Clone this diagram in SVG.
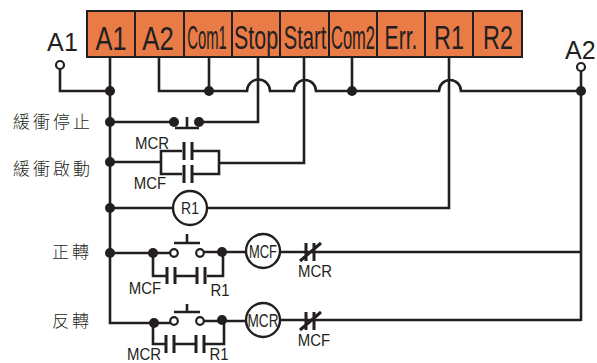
<svg xmlns="http://www.w3.org/2000/svg" width="597" height="363" viewBox="0 0 597 363">
<style>
.w{fill:none;stroke:#231f20;stroke-width:2.6}
.p{fill:none;stroke:#231f20;stroke-width:3}
.d{fill:#231f20}
.o{fill:#fff;stroke:#231f20;stroke-width:2.2}
.c{fill:#fff;stroke:#231f20;stroke-width:2.4}
.cell{fill:#e97b46;stroke:#231f20;stroke-width:2}
text{font-family:"Liberation Sans",Arial,sans-serif;fill:#231f20}
.t{font-size:33px;text-anchor:middle}
.l{font-size:17px;text-anchor:middle}
.n{font-size:25px}
.z{font-family:"Noto Sans CJK TC","Noto Sans CJK SC",sans-serif;font-size:17px;font-weight:300;letter-spacing:3px}
</style>
<g id="terminals">
<rect class="cell" x="87" y="11" width="48" height="46"/><rect class="cell" x="135" y="11" width="49" height="46"/><rect class="cell" x="184" y="11" width="48" height="46"/><rect class="cell" x="232" y="11" width="48" height="46"/><rect class="cell" x="280" y="11" width="49" height="46"/><rect class="cell" x="329" y="11" width="48" height="46"/><rect class="cell" x="377" y="11" width="48" height="46"/><rect class="cell" x="425" y="11" width="48" height="46"/><rect class="cell" x="473" y="11" width="49" height="46"/>
<text class="t" transform="translate(111 50) scale(.77 1)">A1</text>
<text class="t" transform="translate(158 50) scale(.78 1)">A2</text>
<text class="t" transform="translate(207 49) scale(.45 1)">Com1</text>
<text class="t" transform="translate(256 49) scale(.65 1)">Stop</text>
<text class="t" transform="translate(305 49) scale(.61 1)">Start</text>
<text class="t" transform="translate(353 49) scale(.5 1)">Com2</text>
<text class="t" transform="translate(401 49) scale(.64 1)">Err.</text>
<text class="t" transform="translate(449 49) scale(.71 1)">R1</text>
<text class="t" transform="translate(498 49) scale(.71 1)">R2</text>
</g>
<g id="connectors">
<path class="w" d="M110 57V323H153M60 69V91H110"/>
<path class="w" d="M159 57V91H247A11 11 0 0 1 270 91H294A11 11 0 0 1 316 91H439A11 11 0 0 1 461 91H581"/>
<path class="w" d="M209 57V91M352 57V91"/>
<path class="w" d="M258 57V122H199M304 57V163H219M449 57V208H207"/>
<path class="w" d="M581 71V321"/>
<path class="w" d="M110 122H174M110 162H161M110 208H173"/>
<path class="w" d="M161 162V151H182M161 162V174H182M192 151H219V174H192"/>
<path class="w" d="M110 253H170M204 252H246M280 252H581"/>
<path class="w" d="M153 253V276H166M176 276H197M207 276H223V252"/>
<path class="w" d="M153 323H170M204 321H246M280 320H581"/>
<path class="w" d="M153 323V344H166M175 344H196M205 344H224V320"/>
</g>
<g id="A1-terminal"><circle class="o" cx="60" cy="65" r="4"/><text class="n" x="47" y="51" textLength="31">A1</text></g>
<g id="A2-terminal"><circle class="o" cx="581" cy="67" r="4"/><text class="n" x="565" y="59">A2</text></g>
<g id="junctions">
<circle class="d" cx="110" cy="91" r="5"/><circle class="d" cx="209" cy="91" r="5"/><circle class="d" cx="352" cy="91" r="5"/><circle class="d" cx="581" cy="91" r="5"/>
<circle class="d" cx="110" cy="122" r="5"/><circle class="d" cx="110" cy="162" r="5"/><circle class="d" cx="110" cy="208" r="5"/><circle class="d" cx="110" cy="253" r="5"/>
<circle class="d" cx="153" cy="253" r="5"/><circle class="d" cx="222" cy="252" r="5"/><circle class="d" cx="154" cy="323" r="5"/><circle class="d" cx="222" cy="320" r="5"/>
</g>
<g id="buffer-stop">
<circle class="d" cx="174" cy="122" r="5"/><circle class="d" cx="199" cy="122" r="5"/>
<path class="w" d="M175 128H199M187 117V128"/>
<text class="z" x="13" y="128">緩衝停止</text>
</g>
<g id="buffer-start">
<path class="p" d="M184 142V160M192 142V160M184 165V183M192 165V183"/>
<text class="l" transform="translate(152 149) scale(.88 1)">MCR</text><text class="l" transform="translate(150 189) scale(.88 1)">MCF</text>
<text class="z" x="13" y="175">緩衝啟動</text>
</g>
<g id="R1-coil"><circle class="c" cx="190" cy="208" r="17"/><text class="l" transform="translate(190 214) scale(.82 1)">R1</text></g>
<g id="forward">
<circle class="o" cx="174" cy="253" r="3.8"/><circle class="o" cx="200" cy="253" r="3.8"/>
<path class="w" d="M174 243H200M187 234V243"/>
<path class="p" d="M167 267V284M175 267V284M197 267V284M205 267V284"/>
<text class="l" transform="translate(145 294) scale(.88 1)">MCF</text><text class="l" transform="translate(220 296) scale(.88 1)">R1</text>
<text class="z" x="52" y="258">正轉</text>
</g>
<g id="MCF-coil"><circle class="c" cx="263" cy="251" r="17"/><text class="l" transform="translate(263 258) scale(.76 1.12)">MCF</text></g>
<g id="NC-MCR"><path class="p" d="M306 243V261M314 243V261M300 261L321 243"/><text class="l" transform="translate(315 277) scale(.88 1)">MCR</text></g>
<g id="reverse">
<circle class="o" cx="174" cy="321" r="3.8"/><circle class="o" cx="200" cy="321" r="3.8"/>
<path class="w" d="M174 312H200M187 304V312"/>
<path class="p" d="M166 335V353M174 335V353M196 335V353M204 335V353"/>
<text class="l" transform="translate(144 360) scale(.88 1)">MCR</text><text class="l" transform="translate(219 360) scale(.88 1)">R1</text>
<text class="z" x="52" y="327">反轉</text>
</g>
<g id="MCR-coil"><circle class="c" cx="263" cy="320" r="17"/><text class="l" transform="translate(263 327) scale(.8 1.12)">MCR</text></g>
<g id="NC-MCF"><path class="p" d="M306 312V330M314 312V330M300 330L321 312"/><text class="l" transform="translate(314 346) scale(.88 1)">MCF</text></g>
</svg>
